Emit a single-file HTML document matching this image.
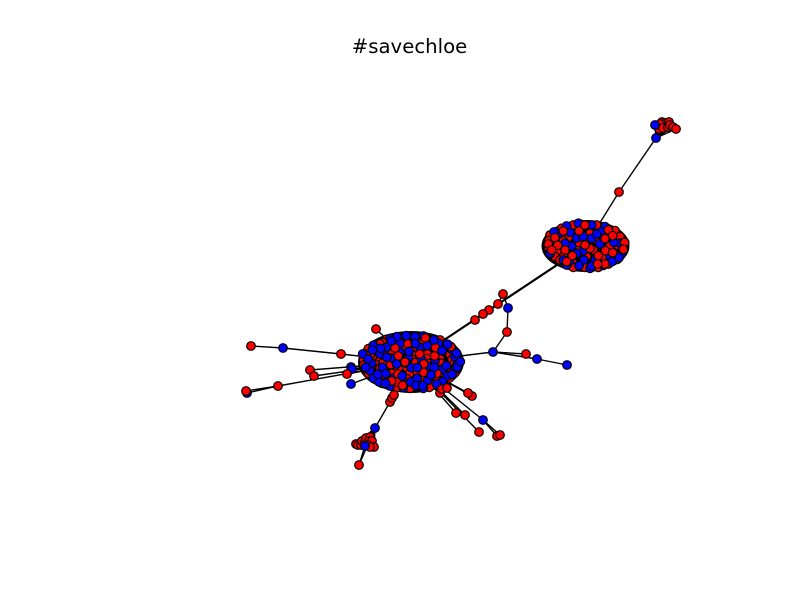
<!DOCTYPE html>
<html>
<head>
<meta charset="utf-8">
<title>#savechloe</title>
<style>
html,body{margin:0;padding:0;background:#fff;width:800px;height:600px;overflow:hidden}
svg{display:block}
</style>
</head>
<body>
<svg id="chart" xmlns="http://www.w3.org/2000/svg" width="800" height="600" viewBox="0 0 800 600">
<rect width="800" height="600" fill="#ffffff"/>
<text x="409.5" y="53" text-anchor="middle" font-family="'DejaVu Sans',sans-serif" font-size="19.7" fill="#000">#savechloe</text>
<g id="edges"></g>
<g id="nodes"></g>
</svg>
<script>
// Layout coordinates of the graph's hubs and individual nodes: [name, x, y, kind]
const hubs = [['A',311,302,53,31],['B',485.5,186,44,26]];
const outerNodes = [
['t1',519,132,'r'],['t2',556,78,'b'],
['c1',403,234,'r'],['c2',398,244,'r'],['c3',389,250,'r'],['c4',383,254,'r'],['c5',375,260,'r'],
['p1',408,248,'b'],['p2',407,272,'r'],['p3',393,292,'b'],
['q1',426,294,'r'],['q2',437,299,'b'],['q3',467,305,'b'],
['s2',372,336,'r'],['s1',368,333,'r'],
['u1',356,353,'r'],['u2',365,355,'r'],['u3',383,360,'b'],['u4',379,372,'r'],['u5',397,376,'r'],['u6',400,375,'r'],
['e1',340,333,'r'],['e2',342,329,'r'],['e3',347,328,'r'],
['l1',151,286,'r'],['l2',183,288,'b'],['l3',241,294,'r'],['l4',210,310,'r'],['l5',214,316,'r'],
['l7',251,307,'b'],['l9',252,309,'b'],['l6',247,314,'r'],['l8',251,324,'b'],
['l11',147,333,'b'],['l10',146,331,'r'],['l12',178,326,'r'],['n1',276,269,'r'],
['d3',290,342,'r'],['d2',292,338,'r'],['d1',294,335,'r'],['d4',275,368,'b'],['d5',259,405,'r']
];
const edgeList = [
['A','B'],['A','n1'],['A','l3'],['l3','l2'],['l2','l1'],['A','l4'],['A','l5'],['A','l6'],['A','l7'],['A','l8'],['A','l9'],
['A','l12'],['l12','l10'],['l12','l11'],['A','p3'],['p3','p2'],['p2','p1'],['p1','c1'],['c1','c2'],
['p3','q1'],['p3','q2'],['q2','q3'],['A','s1'],['A','s2'],['A','u1'],['A','u2'],['A','u4'],['A','u3'],['u3','u5'],['u3','u6'],
['A','e1'],['A','e2'],['A','e3'],['A','d1'],['A','d2'],['A','d3'],['d1','d4'],
['B','t1'],['t1','t2'],['d4','d5']
];
const heavyEdges = [['A','B']];

// Small clusters hanging off a single node: [x, y]
const topRed = [[559,69],[562,62],[565,63],[569,62],[560,64],[563,68],[568,67],[570,65],[573,67],[576,69]];
const topBlue = [[555,65]];
const lowRed = [[256,384],[258,385],[261,385],[262,381],[265,382],[266,378],[270,377],[269,381],[272,381],[268,385],[274,387],[270,387]];
const lowBlue = [[265,386]];

// Dense core A nodes, layout units of 1/3 relative to the core origin
const coreAOrigin = [240,250];
const coreABackRed = [[125,98],[140,88],[186,88],[240,84],[300,90],[108,108],[130,98],[152,104],[188,100],[245,102],[305,104],[85,116],[146,118],[192,114],[226,118],[260,118],[312,116],[72,131],[110,128],[130,134],[156,130],[215,132],[262,132],[300,128],[330,134],[70,147],[100,146],[120,150],[150,144],[216,148],[260,146],[300,146],[336,148],[76,160],[105,162],[130,158],[152,164],[225,158],[270,160],[302,160],[342,162],[90,176],[120,174],[176,176],[200,172],[260,176],[300,178],[326,176],[85,190],[100,192],[156,190],[210,190],[232,188],[312,190],[110,206],[135,204],[200,206],[250,206],[285,204],[322,204],[126,220],[205,222],[265,220],[282,222],[160,228],[120,102],[92,132],[70,150],[72,165],[172,232],[210,235],[268,232],[300,224],[328,204],[345,188]];
const coreABackBlue = [[150,86],[250,78],[100,106],[140,112],[180,126],[240,112],[296,100],[335,118],[68,132],[120,132],[160,146],[205,146],[245,150],[285,152],[344,140],[95,160],[128,172],[200,160],[262,168],[305,180],[345,178],[100,205],[160,205],[212,216],[262,212],[322,198],[150,228],[180,100],[90,182],[350,165],[118,216],[190,233],[250,235],[352,172]];
const coreAFrontBlue = [[171,80],[199,77],[225,80],[154,93],[282,90],[323,103],[97,120],[122,115],[226,101],[262,107],[207,124],[306,122],[350,130],[84,147],[140,142],[170,162],[214,173],[232,173],[319,167],[361,155],[77,172],[283,172],[336,193],[114,193],[137,191],[231,205],[273,195],[307,215],[290,222],[228,227],[248,227],[137,220],[187,198]];
const coreAFrontRed = [[256,84],[204,102],[165,114],[286,113],[333,110],[175,138],[239,132],[284,138],[195,156],[251,162],[174,192],[251,187],[291,190],[172,216],[155,213],[188,226]];

// Dense core B nodes, layout units of 1/3 relative to the core origin
const coreBOrigin = [430,150];
const coreBBackRed = [[95,55],[130,45],[200,45],[255,62],[60,75],[115,82],[180,70],[270,80],[56,92],[100,92],[145,100],[195,88],[262,105],[55,112],[85,130],[145,122],[190,120],[240,108],[260,140],[75,140],[130,160],[170,140],[225,145],[100,140],[165,85],[90,150],[130,172],[205,172],[235,162],[262,148],[165,172],[150,42],[60,132]];
const coreBBackBlue = [[110,48],[145,40],[225,50],[90,70],[185,85],[270,100],[125,108],[160,122],[70,100],[240,140],[195,150],[100,150],[60,130],[230,75],[180,175],[110,165],[220,166],[275,130]];
const coreBFrontBlue = [[72,66],[120,67],[140,84],[185,45],[213,65],[209,102],[252,97],[105,100],[162,150],[147,167],[185,168],[246,155],[267,143],[118,155],[160,80],[140,130],[200,72]];
const coreBFrontRed = [[100,63],[147,63],[165,45],[235,60],[248,77],[225,86],[75,83],[55,102],[83,106],[65,120],[105,120],[127,137],[110,155],[205,137],[226,122],[248,128],[284,97],[280,118],[225,162],[203,162],[180,115],[165,105]];

const NS = 'http://www.w3.org/2000/svg';
const COLORS = {r:'#ff0000', b:'#0000ff'};
const edgeLayer = document.getElementById('edges');
const nodeLayer = document.getElementById('nodes');

function sx(x){ return 100 + x; }
function sy(y){ return 60 + y; }
function coreX(origin,u){ return origin[0] + u/3; }
function coreY(origin,v){ return origin[1] + v/3; }

const lookup = {};
hubs.forEach(function(h){ lookup[h[0]] = [h[1],h[2]]; });
outerNodes.forEach(function(n){ lookup[n[0]] = [n[1],n[2]]; });

function drawEdge(a,b,w){
  const l = document.createElementNS(NS,'line');
  l.setAttribute('x1',sx(a[0]));
  l.setAttribute('y1',sy(a[1]));
  l.setAttribute('x2',sx(b[0]));
  l.setAttribute('y2',sy(b[1]));
  l.setAttribute('stroke','#000');
  l.setAttribute('stroke-width',w);
  
  
  edgeLayer.appendChild(l);
}
function drawNode(x,y,kind){
  const c = document.createElementNS(NS,'circle');
  c.setAttribute('cx',sx(x));
  c.setAttribute('cy',sy(y));
  c.setAttribute('r',4.3);
  c.setAttribute('fill',COLORS[kind]);
  c.setAttribute('stroke','#000');
  c.setAttribute('stroke-width',1.2);
  
  
  nodeLayer.appendChild(c);
}

edgeList.forEach(function(e){ drawEdge(lookup[e[0]],lookup[e[1]],1.4); });
heavyEdges.forEach(function(e){ drawEdge(lookup[e[0]],lookup[e[1]],2.2); });
topRed.concat(topBlue).forEach(function(p){ drawEdge(lookup.t2,p,1.4); });
lowRed.concat(lowBlue).forEach(function(p){ drawEdge(lookup.d4,p,1.4); });
lowBlue.forEach(function(p){ drawEdge(p,lookup.d5,1.4); });

hubs.forEach(function(h){
  const m = document.createElementNS(NS,'ellipse');
  m.setAttribute('cx',sx(h[1]));
  m.setAttribute('cy',sy(h[2]));
  m.setAttribute('rx',h[3]);
  m.setAttribute('ry',h[4]);
  m.setAttribute('fill','#000');
  
  
  edgeLayer.appendChild(m);
});

function drawCore(origin,list,kind){
  list.forEach(function(p){ drawNode(coreX(origin,p[0]),coreY(origin,p[1]),kind); });
}
drawCore(coreAOrigin,coreABackRed,'r');
drawCore(coreAOrigin,coreABackBlue,'b');
drawCore(coreAOrigin,coreAFrontRed,'r');
drawCore(coreAOrigin,coreAFrontBlue,'b');
drawCore(coreBOrigin,coreBBackRed,'r');
drawCore(coreBOrigin,coreBBackBlue,'b');
drawCore(coreBOrigin,coreBFrontBlue,'b');
drawCore(coreBOrigin,coreBFrontRed,'r');

topRed.forEach(function(p){ drawNode(p[0],p[1],'r'); });
topBlue.forEach(function(p){ drawNode(p[0],p[1],'b'); });
lowRed.forEach(function(p){ drawNode(p[0],p[1],'r'); });
lowBlue.forEach(function(p){ drawNode(p[0],p[1],'b'); });
outerNodes.forEach(function(n){ drawNode(n[1],n[2],n[3]); });
</script>
</body>
</html>
